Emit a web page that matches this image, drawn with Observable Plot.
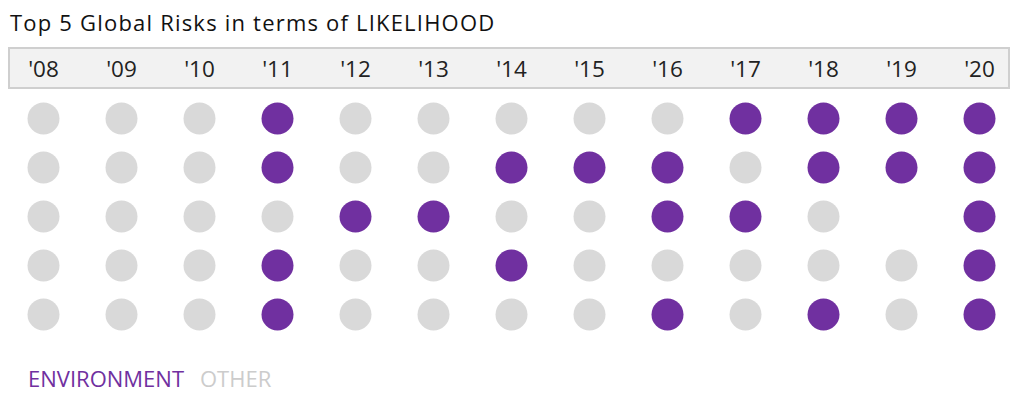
<!DOCTYPE html>
<html>
<head>
<meta charset="utf-8">
<script src="https://cdn.jsdelivr.net/npm/d3@7"></script>
<script src="https://cdn.jsdelivr.net/npm/@observablehq/plot@0.6"></script>
<style>
  body { margin: 0; background: #fff; font-family: "Open Sans", sans-serif; }
  #wrap { position: relative; width: 1024px; height: 399px; overflow: hidden; }
  #title { position: absolute; left: 10px; top: 7px; font-size: 22px; letter-spacing: 1.2px; color: #111; white-space: nowrap; }
  #box { position: absolute; left: 8px; top: 47px; width: 998px; height: 38px; background: #f2f2f2; border: 2px solid #cfcfcf; }
  #chart { position: absolute; left: 0; top: 42px; }
  #legend { position: absolute; left: 28px; top: 363px; font-size: 22px; white-space: nowrap; }
  #legend span { margin-right: 16px; }
</style>
</head>
<body>
<div id="wrap">
  <div id="title">Top 5 Global Risks in terms of LIKELIHOOD</div>
  <div id="box"></div>
  <div id="chart"></div>
  <div id="legend"></div>
</div>
<script>
// Years (columns) and ranks (rows)
const years = [2008, 2009, 2010, 2011, 2012, 2013, 2014, 2015, 2016, 2017, 2018, 2019, 2020];
const ranks = [1, 2, 3, 4, 5];
// Category per year for each rank: "E" = environment, "O" = other, "" = none
const rank1 = ["O","O","O","E","O","O","O","O","O","E","E","E","E"];
const rank2 = ["O","O","O","E","O","O","E","E","E","O","E","E","E"];
const rank3 = ["O","O","O","O","E","E","O","O","E","E","O","","E"];
const rank4 = ["O","O","O","E","O","O","E","O","O","O","O","O","E"];
const rank5 = ["O","O","O","E","O","O","O","O","E","O","E","O","E"];
const categoryNames = {E: "ENVIRONMENT", O: "OTHER"};
const legendItems = ["ENVIRONMENT", "OTHER"];
const purple = "#7030a0";
const grey = "#d9d9d9";

const rows = [rank1, rank2, rank3, rank4, rank5];
const data = [];
rows.forEach((row, i) => row.forEach((c, j) => {
  if (c) data.push({year: years[j], rank: ranks[i], category: categoryNames[c]});
}));

const chart = Plot.plot({
  width: 1024,
  height: 300,
  marginLeft: 40,
  marginRight: 43,
  marginTop: 75,
  marginBottom: 28,
  style: {background: "transparent", fontFamily: "'Open Sans', sans-serif", color: "#222"},
  x: {type: "point", domain: years, padding: 0, axis: null},
  y: {type: "point", domain: ranks, padding: 0, axis: null},
  color: {domain: legendItems, range: [purple, grey]},
  marks: [
    Plot.axisX({anchor: "top", label: null, tickSize: 0, tickPadding: 41, fontSize: 22.5,
      tickFormat: d => "'" + String(d).slice(2)}),
    Plot.dot(data, {x: "year", y: "rank", r: 16, fill: "category"})
  ]
});
document.getElementById("chart").appendChild(chart);

const legend = document.getElementById("legend");
const legendColors = {ENVIRONMENT: purple, OTHER: "#cccccc"};
legendItems.forEach(name => {
  const s = document.createElement("span");
  s.textContent = name;
  s.style.color = legendColors[name];
  legend.appendChild(s);
});
</script>
</body>
</html>
